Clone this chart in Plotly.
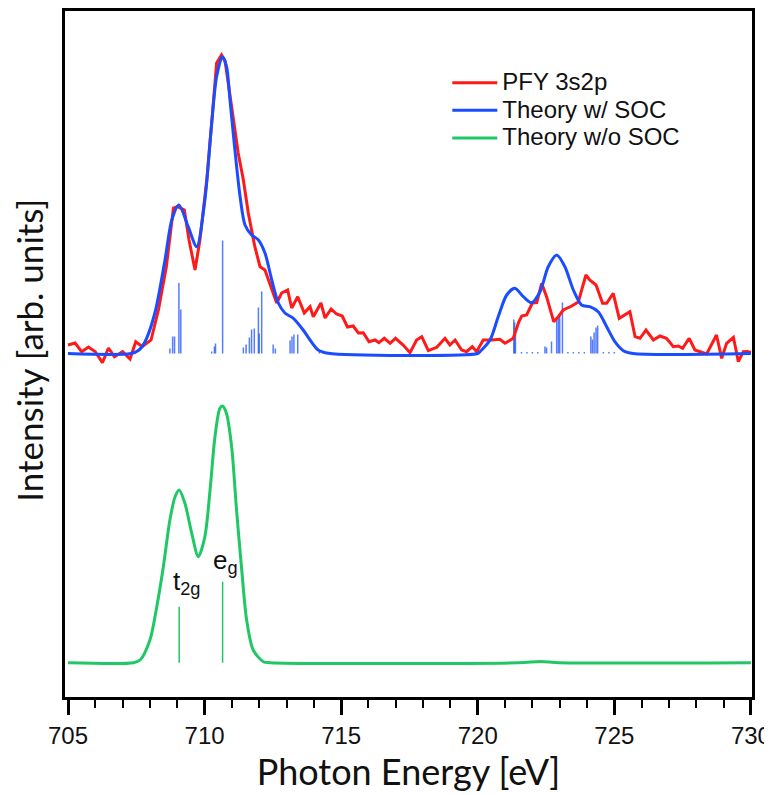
import plotly.graph_objects as go

# ---------------- data (arbitrary intensity units) ----------------
# Experimental PFY 3s2p spectrum (upper panel)
pfy_energy = [705.0, 705.26, 705.5, 705.75, 706.0, 706.26, 706.48, 706.7, 707.0, 707.27,
              707.48, 707.72, 708.04, 708.31, 708.6, 708.86, 709.0, 709.26, 709.43, 709.65,
              709.83, 710.08, 710.26, 710.44, 710.62, 710.75, 710.99, 711.23, 711.42, 711.6,
              711.84, 712.03, 712.21, 712.46, 712.64, 712.82, 713.04, 713.19, 713.41, 713.65,
              713.86, 713.98, 714.26, 714.41, 714.63, 714.83, 715.04, 715.23, 715.44, 715.63,
              715.81, 716.02, 716.24, 716.38, 716.58, 716.79, 716.99, 717.27, 717.52, 717.76,
              717.95, 718.19, 718.5, 718.8, 718.98, 719.17, 719.41, 719.59, 719.8, 719.96,
              720.2, 720.51, 720.81, 721.0, 721.3, 721.5, 721.61, 721.79, 722.0, 722.16,
              722.34, 722.52, 722.78, 722.95, 723.13, 723.44, 723.68, 723.96, 724.1, 724.33,
              724.57, 724.72, 724.96, 725.18, 725.39, 725.57, 725.76, 725.94, 726.16, 726.43,
              726.67, 726.91, 727.16, 727.34, 727.5, 727.74, 727.95, 728.38, 728.74, 728.93,
              729.11, 729.36, 729.54, 729.72, 729.87, 730.0]
pfy_intensity = [8.5, 10.5, 1.8, 6.5, 1.8, -9.2, 5.5, -3.2, 1.8, -5.5,
                 11.8, 6.8, 13.5, 43.5, 86.8, 145.5, 146.8, 143.5, 113.5, 83.5,
                 113.5, 173.5, 230.5, 290.5, 298.5, 292.5, 246.8, 200.5, 173.5, 140.5,
                 106.8, 86.8, 83.5, 63.5, 50.5, 60.5, 63.5, 45.5, 56.8, 40.5,
                 46.8, 36.8, 50.5, 35.5, 44.5, 39.5, 37.5, 26.5, 27.5, 20.5,
                 20.8, 11.8, 13.5, 10.8, 15.2, 10.2, 15.2, 8.5, 0.8, 13.5,
                 16.8, 2.8, 6.2, 15.2, 8.5, 13.5, 3.5, 1.8, 6.8, 1.8,
                 13.5, 13.5, 14.2, 10.2, 15.2, 31.5, 37.5, 38.5, 50.5, 50.8,
                 70.2, 56.8, 31.8, 36.8, 43.5, 47.5, 51.5, 78.5, 73.5, 68.5,
                 50.2, 50.2, 60.2, 35.2, 38.5, 41.8, 16.8, 15.2, 23.5, 13.5,
                 17.5, 15.2, 6.8, 7.5, 5.2, 15.2, 3.5, -0.5, 18.5, -4.8,
                 10.2, 16.2, -8.2, 1.8, 2.0, 1.0]

# Theory with spin-orbit coupling (upper panel, broadened)
soc_energy = [705.0, 707.3, 707.6, 707.82, 708.18, 708.55, 708.8, 709.06, 709.4, 709.71,
              710.01, 710.26, 710.44, 710.65, 710.8, 710.93, 711.11, 711.3, 711.48, 711.72,
              711.97, 712.21, 712.46, 712.7, 712.94, 713.25, 713.61, 713.86, 714.16, 714.53,
              720.0, 720.08, 720.45, 720.75, 721.06, 721.36, 721.67, 721.97, 722.28, 722.58,
              722.89, 723.19, 723.5, 723.8, 724.1, 724.41, 724.72, 725.02, 725.33, 725.69, 730.0]
soc_intensity = [0, 0, 3.5, 11.8, 40.5, 93.5, 133.5, 148.5, 126.8, 106.8,
                 153.5, 230.5, 276.8, 296.8, 287.5, 253.5, 203.5, 156.8, 128.5, 118.5,
                 113.5, 100.5, 73.5, 50.5, 40.5, 35.2, 23.5, 13.5, 3.5, 0.2,
                 0, 1.8, 13.5, 36.8, 58.5, 65.2, 56.8, 50.8, 61.8, 86.8,
                 98.5, 86.8, 63.5, 48.5, 46.8, 41.8, 26.8, 11.8, 2.8, 0, 0]

# Theory with SOC: multiplet stick spectrum
soc_stick_energy = [708.73, 708.83, 708.9, 709.06, 709.13, 710.26, 710.36, 710.4, 710.66,
                    711.42, 711.52, 711.64, 711.72, 711.82, 711.97, 712.0, 712.09, 712.51,
                    712.59, 713.13, 713.2, 713.27, 713.41, 714.2,
                    721.32, 721.35, 721.38, 721.6, 721.8, 722.0, 722.2, 722.46, 722.52,
                    722.7, 722.89, 722.95, 723.0, 723.1, 723.3, 723.5, 723.7, 723.9,
                    724.14, 724.2, 724.26, 724.33, 724.39, 724.6, 724.8, 725.0]
soc_stick_height = [5, 17, 17, 70.6, 44, 2, 7, 10, 113,
                    6, 9, 16, 24, 25, 46, 20, 62, 9,
                    5, 13, 17, 19, 19, 1.5,
                    34, 31, 24, 1.5, 1.5, 1.5, 1.5, 7, 6,
                    12, 34, 36, 39, 51, 1.5, 1.5, 1.5, 1.5,
                    17, 14, 21, 26, 28, 1.5, 1.5, 1.5]

# Theory without spin-orbit coupling (lower panel)
nosoc_energy = [705.0, 707.4, 707.64, 708.0, 708.25, 708.49, 708.73, 708.92, 709.07, 709.28,
                709.53, 709.77, 710.01, 710.2, 710.38, 710.56, 710.66, 710.8, 710.99, 711.17,
                711.36, 711.54, 711.78, 712.15, 712.4, 721.5, 722.3, 723.0, 730.0]
nosoc_intensity = [0, 0, 2.7, 22.7, 56, 96, 142.7, 166, 172.7, 159.4,
                   129.4, 106, 126, 172.7, 226, 254.4, 256.7, 249.4, 216, 152.7,
                   92.7, 42.7, 12.7, 1, 0, 0, 1.2, 0, 0]

nosoc_stick_energy = [709.07, 710.66]
nosoc_stick_height = [56, 81]
nosoc_labels = ["t<sub>2g</sub>", "e<sub>g</sub>"]
label_energy = [709.35, 710.76]
label_height = [80, 101]

series_names = ["PFY 3s2p", "Theory w/ SOC", "Theory w/o SOC"]
x_title = "Photon Energy [eV]"
y_title = "Intensity [arb. units]"

upper_offset = 309.2
x_ticks = [705, 710, 715, 720, 725, 730]

RED = "#ff1a1a"
BLUE = "#1a4dff"
GREEN = "#1fc864"
TITLE_FONT = dict(family="Lato, Open Sans, sans-serif", size=36, color="#111")


def sticks(energies, heights, base):
    xs, ys = [], []
    for e, h in zip(energies, heights):
        xs += [e, e, None]
        ys += [base, base + h, None]
    return xs, ys


def legend_label(name):
    # larger glyphs than the legend's row pitch, as in the original figure
    return "<span style='font-size:24px'>" + name + "</span>"


fig = go.Figure()

sx, sy = sticks(soc_stick_energy, soc_stick_height, upper_offset)
fig.add_trace(go.Scatter(x=sx, y=sy, mode="lines", showlegend=False, hoverinfo="skip",
                         line=dict(color="rgba(30,80,255,0.75)", width=1.5)))
gx, gy = sticks(nosoc_stick_energy, nosoc_stick_height, 0)
fig.add_trace(go.Scatter(x=gx, y=gy, mode="lines", showlegend=False, hoverinfo="skip",
                         line=dict(color=GREEN, width=1.5)))

fig.add_trace(go.Scatter(x=pfy_energy, y=[v + upper_offset for v in pfy_intensity],
                         mode="lines", name=legend_label(series_names[0]),
                         line=dict(color=RED, width=3)))
fig.add_trace(go.Scatter(x=soc_energy, y=[v + upper_offset for v in soc_intensity],
                         mode="lines", name=legend_label(series_names[1]),
                         line=dict(color=BLUE, width=3, shape="spline", smoothing=0.8)))
fig.add_trace(go.Scatter(x=nosoc_energy, y=nosoc_intensity,
                         mode="lines", name=legend_label(series_names[2]),
                         line=dict(color=GREEN, width=3, shape="spline", smoothing=0.8)))

for txt, e, h in zip(nosoc_labels, label_energy, label_height):
    fig.add_annotation(x=e, y=h, xref="x", yref="y", text=txt, showarrow=False,
                       font=dict(family="Liberation Sans, Arial, sans-serif", size=26, color="#111"))

# y-axis title placed as a rotated annotation for exact positioning
fig.add_annotation(x=-0.0525, y=0.506, xref="paper", yref="paper", text=y_title,
                   textangle=-90, showarrow=False, xanchor="center", yanchor="middle",
                   borderpad=0, font=dict(family="Lato, Open Sans, sans-serif", size=35, color="#111"))

# the page adds an 8px body margin, so the figure is sized to fit inside 772x795
fig.update_layout(
    width=764, height=787,
    margin=dict(l=57, r=20, t=3, b=98, autoexpand=False),
    paper_bgcolor="white", plot_bgcolor="white",
    font=dict(family="Liberation Sans, Arial, sans-serif", color="#111"),
    legend=dict(x=0.5565, y=0.923, xanchor="left", yanchor="top",
                bgcolor="rgba(0,0,0,0)", font=dict(size=19, color="#111"),
                tracegroupgap=0, itemwidth=45),
    showlegend=True,
)
fig.update_xaxes(
    range=[704.89, 730.04], showgrid=False, zeroline=False, automargin=False,
    showline=True, mirror=True, linecolor="black", linewidth=2.5,
    tickvals=x_ticks, ticktext=[str(t) for t in x_ticks],
    ticks="outside", ticklen=15, tickwidth=2.5, tickcolor="black",
    minor=dict(dtick=1, ticks="outside", ticklen=8, tickwidth=2, tickcolor="black"),
    tickfont=dict(size=24, family="Liberation Sans, Arial, sans-serif", color="#111"),
    title=dict(text=x_title, standoff=12, font=TITLE_FONT),
)
fig.update_yaxes(
    range=[-34.3, 651.7], showgrid=False, zeroline=False, automargin=False,
    showline=True, mirror=True, linecolor="black", linewidth=2.5,
    showticklabels=False, ticks="",
)

fig.write_html("out.html")
